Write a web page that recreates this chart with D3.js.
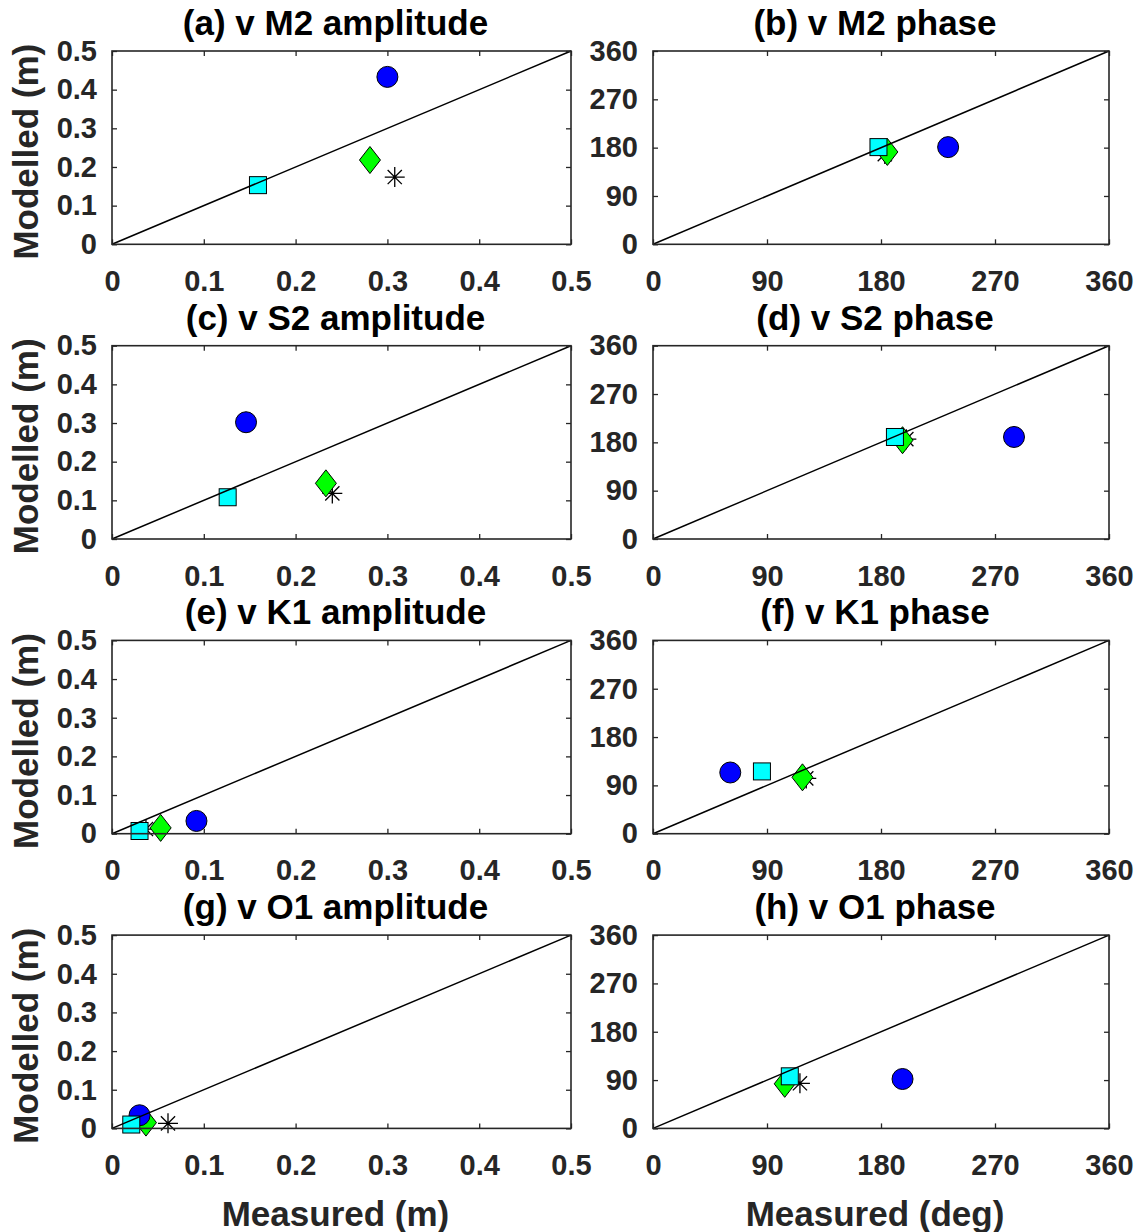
<!DOCTYPE html>
<html>
<head>
<meta charset="utf-8">
<script src="https://cdn.jsdelivr.net/npm/d3@7"></script>
<style>
  html, body { margin: 0; padding: 0; background: #fff; }
  svg { display: block; }
  text { font-family: "Liberation Sans", Arial, Helvetica, sans-serif; font-weight: bold; }
</style>
</head>
<body>
<svg id="chart" width="1141" height="1232"></svg>
<script>
// ---------------- DATA ----------------
const constituents = ["M2", "S2", "K1", "O1"];
const panelLetters = ["a", "b", "c", "d", "e", "f", "g", "h"];
const ampTicks = [0, 0.1, 0.2, 0.3, 0.4, 0.5];
const phaseTicks = [0, 90, 180, 270, 360];
const ampDomain = [0, 0.5];
const phaseDomain = [0, 360];

// circle (blue)
const circleAmpMeasured   = [0.300, 0.146, 0.092, 0.030];
const circleAmpModelled   = [0.433, 0.302, 0.033, 0.034];
const circlePhaseMeasured = [233, 285, 61, 197];
const circlePhaseModelled = [181, 190, 114, 92];
// square (cyan)
const squareAmpMeasured   = [0.159, 0.126, 0.030, 0.021];
const squareAmpModelled   = [0.153, 0.108, 0.007, 0.010];
const squarePhaseMeasured = [178, 191, 86, 108];
const squarePhaseModelled = [181, 190, 116, 97];
// diamond (green)
const diamondAmpMeasured   = [0.281, 0.233, 0.053, 0.037];
const diamondAmpModelled   = [0.218, 0.144, 0.015, 0.015];
const diamondPhaseMeasured = [185, 197, 118, 104];
const diamondPhaseModelled = [172, 184, 105, 83];
// asterisk (black)
const asteriskAmpMeasured   = [0.308, 0.240, 0.037, 0.061];
const asteriskAmpModelled   = [0.174, 0.118, 0.012, 0.013];
const asteriskPhaseMeasured = [183, 200, 121, 116];
const asteriskPhaseModelled = [168, 186, 103, 84];

const xLabels = ["Measured (m)", "Measured (deg)"];
const yLabel = "Modelled (m)";

// ---------------- LAYOUT ----------------
const svg = d3.select("#chart");
const colLeft = [112, 653];
const colWidth = [459, 456];
const rowTop = [51, 345.7, 640.4, 935.1];
const rowHeight = 193.3;
const axisColor = "#262626";
const tickFont = 29;

const seriesDefs = [
  { shape: "asterisk", fill: "none", am: asteriskAmpMeasured, ao: asteriskAmpModelled, pm: asteriskPhaseMeasured, po: asteriskPhaseModelled },
  { shape: "diamond", fill: "#00ff00", am: diamondAmpMeasured, ao: diamondAmpModelled, pm: diamondPhaseMeasured, po: diamondPhaseModelled },
  { shape: "circle", fill: "#0000ff", am: circleAmpMeasured, ao: circleAmpModelled, pm: circlePhaseMeasured, po: circlePhaseModelled },
  { shape: "square", fill: "#00ffff", am: squareAmpMeasured, ao: squareAmpModelled, pm: squarePhaseMeasured, po: squarePhaseModelled }
];

function drawMarker(g, shape, fill, cx, cy) {
  if (shape === "circle") {
    g.append("circle").attr("cx", cx).attr("cy", cy).attr("r", 10.5)
      .attr("fill", fill).attr("stroke", "#000").attr("stroke-width", 1);
  } else if (shape === "square") {
    g.append("rect").attr("x", cx - 8.5).attr("y", cy - 8.5).attr("width", 17).attr("height", 17)
      .attr("fill", fill).attr("stroke", "#000").attr("stroke-width", 1);
  } else if (shape === "diamond") {
    const w = 10.5, h = 13.5;
    g.append("path").attr("d", `M${cx},${cy - h}L${cx + w},${cy}L${cx},${cy + h}L${cx - w},${cy}Z`)
      .attr("fill", fill).attr("stroke", "#000").attr("stroke-width", 1);
  } else if (shape === "asterisk") {
    const r = 10, d = 7.1;
    g.append("path").attr("d",
      `M${cx - r},${cy}L${cx + r},${cy}M${cx},${cy - r}L${cx},${cy + r}` +
      `M${cx - d},${cy - d}L${cx + d},${cy + d}M${cx - d},${cy + d}L${cx + d},${cy - d}`)
      .attr("stroke", "#000").attr("stroke-width", 1.3).attr("fill", "none");
  }
}

constituents.forEach((con, row) => {
  [0, 1].forEach(col => {
    const isAmp = col === 0;
    const domain = isAmp ? ampDomain : phaseDomain;
    const ticks = isAmp ? ampTicks : phaseTicks;
    const x0 = colLeft[col], w = colWidth[col];
    const y0 = rowTop[row], h = rowHeight;
    const x = d3.scaleLinear().domain(domain).range([x0, x0 + w]);
    const y = d3.scaleLinear().domain(domain).range([y0 + h, y0]);
    const g = svg.append("g");
    const fmt = isAmp ? (d => d === 0 ? "0" : d3.format(".1f")(d)) : d3.format("d");

    // markers
    const mg = g.append("g");
    seriesDefs.forEach(s => {
      const mx = isAmp ? s.am[row] : s.pm[row];
      const my = isAmp ? s.ao[row] : s.po[row];
      drawMarker(mg, s.shape, s.fill, x(mx), y(my));
    });

    // 1:1 line
    g.append("line")
      .attr("x1", x(domain[0])).attr("y1", y(domain[0]))
      .attr("x2", x(domain[1])).attr("y2", y(domain[1]))
      .attr("stroke", "#000").attr("stroke-width", 1.5);

    // axes
    const axB = g.append("g").attr("transform", `translate(0,${y0 + h})`)
      .call(d3.axisBottom(x).tickValues(ticks).tickFormat(fmt).tickSize(-5).tickPadding(26));
    const axL = g.append("g").attr("transform", `translate(${x0},0)`)
      .call(d3.axisLeft(y).tickValues(ticks).tickFormat(fmt).tickSize(-5).tickPadding(15));
    const axT = g.append("g").attr("transform", `translate(0,${y0})`)
      .call(d3.axisTop(x).tickValues(ticks).tickFormat("").tickSize(-5));
    const axR = g.append("g").attr("transform", `translate(${x0 + w},0)`)
      .call(d3.axisRight(y).tickValues(ticks).tickFormat("").tickSize(-5));
    [axB, axL, axT, axR].forEach(a => {
      a.select(".domain").remove();
      a.selectAll(".tick line").attr("stroke", axisColor).attr("stroke-width", 1.3);
      a.selectAll("text").attr("fill", axisColor).style("font-size", tickFont + "px")
        .style("font-family", '"Liberation Sans", Arial, sans-serif').style("font-weight", "bold");
    });

    g.append("rect").attr("x", x0).attr("y", y0).attr("width", w).attr("height", h)
      .attr("fill", "none").attr("stroke", axisColor).attr("stroke-width", 1.6);

    // title
    const letter = panelLetters[row * 2 + col];
    g.append("text")
      .attr("x", x0 + w / 2 - 6).attr("y", y0 - 16)
      .attr("text-anchor", "middle").attr("fill", "#000")
      .style("font-size", "35px")
      .text(`(${letter}) v ${con} ${isAmp ? "amplitude" : "phase"}`);

    // y label
    if (col === 0) {
      g.append("text")
        .attr("transform", `translate(38,${y0 + h / 2 + 4}) rotate(-90)`)
        .attr("text-anchor", "middle").attr("fill", axisColor)
        .style("font-size", "35px")
        .text(yLabel);
    }
    // x label
    if (row === constituents.length - 1) {
      g.append("text")
        .attr("x", x0 + w / 2 - 6).attr("y", 1226)
        .attr("text-anchor", "middle").attr("fill", axisColor)
        .style("font-size", "35px")
        .text(xLabels[col]);
    }
  });
});
</script>
</body>
</html>
